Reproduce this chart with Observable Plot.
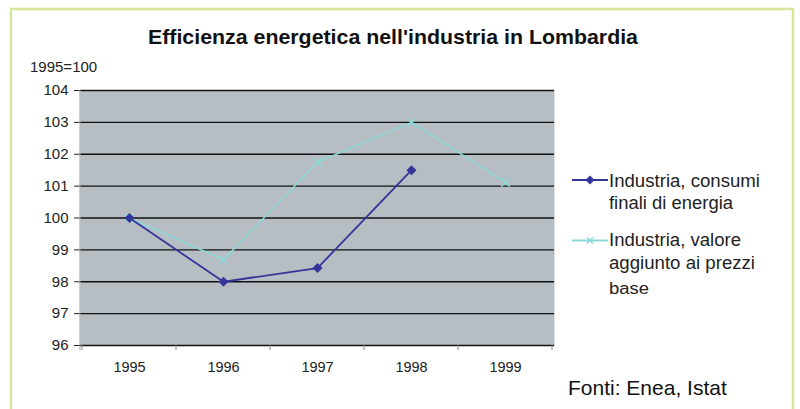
<!DOCTYPE html>
<html><head><meta charset="utf-8">
<script src="https://cdn.jsdelivr.net/npm/d3@7"></script>
<script src="https://cdn.jsdelivr.net/npm/@observablehq/plot@0.6"></script>
<style>
body{margin:0;background:#fff;}
#chart{width:800px;height:409px;}
</style></head>
<body><div id="chart"></div>
<script>
const years = ["1995","1996","1997","1998","1999"];
const consumi = [100, 98.0, 98.43, 101.5, null];
const valore = [100, 98.69, 101.75, 103.0, 101.12];
const yTicks = [96,97,98,99,100,101,102,103,104];
const title = "Efficienza energetica nell'industria in Lombardia";
const yUnit = "1995=100";
const source = "Fonti: Enea, Istat";
const legLines = [["Industria, consumi","finali di energia"],["Industria, valore","aggiunto ai prezzi","base"]];
const colors = ["#35359b","#8ed8d8"];

const dataA = years.map((y,i)=>({year:y, v:consumi[i]})).filter(d=>d.v!=null);
const dataB = years.map((y,i)=>({year:y, v:valore[i]}));

const plot = Plot.plot({
  width:800, height:409,
  marginLeft:80, marginRight:246, marginTop:90, marginBottom:64,
  style:{fontFamily:"'Liberation Sans', Arial, sans-serif", background:"transparent", color:"#222"},
  x:{type:"point", domain:years, padding:0.5, label:null},
  y:{domain:[96,104], label:null},
  marks:[
    Plot.frame({fill:"#b6bec3", stroke:null}),
    Plot.ruleY(yTicks, {stroke:"#111", strokeWidth:1.3}),
    Plot.axisY({ticks:yTicks, tickSize:6, tickPadding:6, fontSize:15, stroke:"#222", label:null, tickFormat:d=>String(d)}),
    Plot.axisX({tickSize:0, tickPadding:16, fontSize:14.5, label:null}),
    Plot.line(dataB, {x:"year", y:"v", stroke:colors[1], strokeWidth:1.6}),
    Plot.dot(dataB, {x:"year", y:"v", symbol:"times", stroke:colors[1], r:4, strokeWidth:1.5}),
    Plot.line(dataA, {x:"year", y:"v", stroke:colors[0], strokeWidth:1.8}),
    Plot.dot(dataA, {x:"year", y:"v", symbol:"diamond2", fill:colors[0], r:4.5})
  ]
});
document.getElementById("chart").appendChild(plot);

const svg = d3.select(plot);
svg.selectAll('g[aria-label="y-axis tick label"]').attr("font-size",15).selectAll("text").attr("font-size",15);
svg.selectAll('g[aria-label="x-axis tick label"]').attr("font-size",14.5).selectAll("text").attr("font-size",14.5);
const xs = plot.scale("x");
const step = xs.step;
const pLeft = 80, pBottom = 345, pTop = 90;
svg.append("line").attr("x1",pLeft).attr("x2",pLeft).attr("y1",pTop).attr("y2",pBottom+5).attr("stroke","#9aa0a4").attr("stroke-width",1);
const bounds = years.map(y=>xs.apply(y)-step/2).concat([xs.apply(years[years.length-1])+step/2]);
svg.selectAll(".bt").data(bounds).join("line")
  .attr("x1",d=>d).attr("x2",d=>d).attr("y1",pBottom).attr("y2",pBottom+5)
  .attr("stroke","#888").attr("stroke-width",1);

svg.append("rect").attr("x",11).attr("y",9).attr("width",782).attr("height",430)
  .attr("fill","none").attr("stroke","#d6e69a").attr("stroke-width",2.5);

const ff = "'Liberation Sans', Arial, sans-serif";
svg.append("text").attr("x",148).attr("y",44).attr("text-anchor","start")
  .attr("textLength",490).attr("lengthAdjust","spacingAndGlyphs")
  .attr("font-family",ff).attr("font-weight","bold").attr("font-size",21).attr("fill","#111").text(title);
svg.append("text").attr("x",30).attr("y",72).attr("text-anchor","start").attr("font-family",ff).attr("font-size",15).attr("fill","#222").text(yUnit);
svg.append("text").attr("x",568).attr("y",395).attr("text-anchor","start").attr("font-family",ff).attr("font-size",21).attr("fill","#111").text(source);

const legY = [180, 240.5];
const lineBase = [[187,209],[246,268.5,294]];
const lineW = [[151,124],[132,146,40]];
legLines.forEach((lines,i)=>{
  svg.append("line").attr("x1",572).attr("x2",608).attr("y1",legY[i]).attr("y2",legY[i]).attr("stroke",colors[i]).attr("stroke-width",1.8);
  const c = legY[i];
  if(i===0){
    svg.append("path").attr("d",`M590,${c-4.5}L594.5,${c}L590,${c+4.5}L585.5,${c}Z`).attr("fill",colors[0]);
  } else {
    svg.append("path").attr("d",`M587,${c-3}L593,${c+3}M593,${c-3}L587,${c+3}`).attr("stroke",colors[1]).attr("stroke-width",1.5);
  }
  lines.forEach((t,j)=>{
    svg.append("text").attr("x",609).attr("y",lineBase[i][j]).attr("text-anchor","start").attr("font-family",ff)
      .attr("textLength",lineW[i][j]).attr("lengthAdjust","spacingAndGlyphs")
      .attr("font-size", (i===1&&j===2)?16:17.5).attr("fill","#222").text(t);
  });
});
</script></body></html>
